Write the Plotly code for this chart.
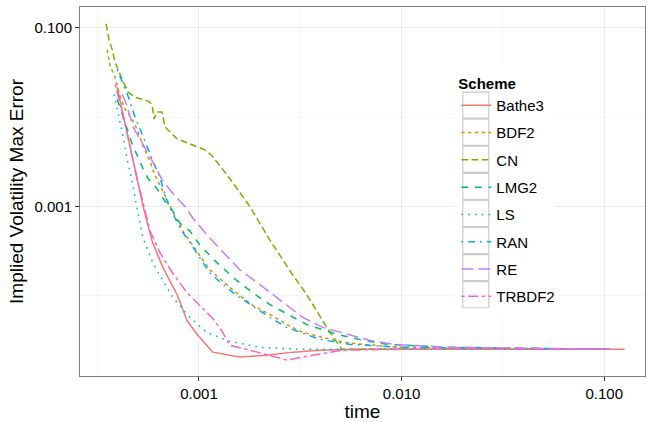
import plotly.graph_objects as go

# ---------------- data ----------------
schemes = ["Bathe3", "BDF2", "CN", "LMG2", "LS", "RAN", "RE", "TRBDF2"]

bathe3_t = [3.95e-4, 5.30e-4, 5.87e-4, 6.65e-4, 7.80e-4, 8.73e-4, 9.77e-4, 1.17e-3, 1.59e-3,
            2.16e-3, 2.90e-3, 3.95e-3, 6.21e-3, 1.72e-2, 0.126]
bathe3_err = [0.0215, 0.00100, 0.000408, 0.000205, 0.000103, 5.28e-5, 3.69e-5, 2.33e-5, 2.05e-5,
              2.15e-5, 2.33e-5, 2.45e-5, 2.51e-5, 2.51e-5, 2.51e-5]

bdf2_t = [3.52e-4, 3.65e-4, 3.86e-4, 4.08e-4, 4.32e-4, 4.68e-4, 5.01e-4, 5.30e-4, 5.74e-4, 6.07e-4,
          6.65e-4, 7.20e-4, 8.34e-4, 9.77e-4, 1.13e-3, 1.37e-3, 1.59e-3, 1.85e-3, 2.24e-3, 2.71e-3,
          3.25e-3, 4.08e-3, 5.12e-3, 6.43e-3, 9.78e-3, 1.72e-2, 0.106]
bdf2_err = [0.0570, 0.0369, 0.0278, 0.0171, 0.0123, 0.0095, 0.00681, 0.00476, 0.00316, 0.00221,
            0.00147, 0.00100, 0.000528, 0.000316, 0.000195, 0.000133, 0.000100, 7.74e-5, 6.15e-5,
            4.76e-5, 3.88e-5, 3.41e-5, 3.01e-5, 2.85e-5, 2.64e-5, 2.58e-5, 2.51e-5]

cn_t = [3.48e-4, 3.60e-4, 3.73e-4, 3.86e-4, 4.18e-4, 4.47e-4, 4.84e-4, 5.24e-4, 5.61e-4, 5.87e-4,
        6.00e-4, 6.21e-4, 6.57e-4, 6.80e-4, 7.20e-4, 7.80e-4, 8.73e-4, 9.77e-4, 1.07e-3, 1.16e-3,
        1.27e-3, 1.42e-3, 1.78e-3, 2.24e-3, 2.81e-3, 3.40e-3, 4.27e-3, 5.06e-3, 9.78e-3, 0.106]
cn_err = [0.111, 0.0736, 0.0570, 0.0408, 0.0264, 0.0190, 0.0167, 0.0158, 0.0151, 0.0139,
          0.0095, 0.0114, 0.0114, 0.00774, 0.00681, 0.00570, 0.00515, 0.00464, 0.00430, 0.00369,
          0.00285, 0.00205, 0.00100, 0.000419, 0.000190, 0.000103, 4.41e-5, 2.51e-5, 2.51e-5, 2.51e-5]

lmg2_t = [3.95e-4, 4.22e-4, 4.68e-4, 5.30e-4, 5.61e-4, 6.21e-4, 6.80e-4, 7.45e-4, 8.06e-4, 9.03e-4,
          1.01e-3, 1.23e-3, 1.54e-3, 1.93e-3, 2.24e-3, 2.81e-3, 3.40e-3, 4.79e-3, 6.43e-3, 8.43e-3,
          1.72e-2, 0.106]
lmg2_err = [0.0158, 0.0100, 0.00501, 0.00264, 0.00205, 0.00158, 0.00114, 0.00088, 0.000648, 0.000528,
            0.000369, 0.000233, 0.000147, 0.000100, 7.94e-5, 6.00e-5, 4.76e-5, 3.69e-5, 3.16e-5, 2.85e-5,
            2.64e-5, 2.51e-5]

ls_t = [3.81e-4, 3.99e-4, 4.18e-4, 4.42e-4, 4.68e-4, 4.95e-4, 5.30e-4, 5.87e-4, 6.43e-4, 7.45e-4,
        9.03e-4, 1.09e-3, 1.42e-3, 2.00e-3, 3.15e-3, 9.78e-3, 0.106]
ls_err = [0.0180, 0.0114, 0.00681, 0.00341, 0.00190, 0.00095, 0.000441, 0.000245, 0.000167, 9.5e-5,
          5.70e-5, 3.88e-5, 3.08e-5, 2.64e-5, 2.51e-5, 2.51e-5, 2.51e-5]

ran_t = [3.95e-4, 4.47e-4, 4.84e-4, 5.24e-4, 5.74e-4, 6.43e-4, 7.03e-4, 8.06e-4, 9.55e-4, 1.13e-3,
         1.37e-3, 1.59e-3, 1.89e-3, 2.24e-3, 2.71e-3, 3.15e-3, 3.95e-3, 5.55e-3, 9.78e-3, 0.106]
ran_err = [0.0341, 0.0171, 0.0100, 0.00648, 0.00388, 0.00205, 0.00108, 0.000570, 0.000324, 0.000180,
           0.000123, 9.5e-5, 7.36e-5, 5.70e-5, 4.41e-5, 3.88e-5, 3.24e-5, 2.85e-5, 2.64e-5, 2.51e-5]

re_t = [4.18e-4, 4.42e-4, 4.73e-4, 5.12e-4, 5.74e-4, 6.65e-4, 7.45e-4, 8.53e-4, 9.34e-4, 1.13e-3,
        1.37e-3, 1.59e-3, 2.00e-3, 2.42e-3, 2.81e-3, 3.25e-3, 4.08e-3, 5.36e-3, 6.95e-3, 9.04e-3,
        1.72e-2, 0.106]
re_err = [0.0180, 0.0133, 0.00774, 0.00570, 0.00359, 0.00190, 0.00139, 0.00100, 0.000736, 0.000441,
          0.000278, 0.000195, 0.000133, 9.5e-5, 7.36e-5, 5.70e-5, 4.41e-5, 3.69e-5, 3.16e-5, 2.85e-5,
          2.64e-5, 2.51e-5]

trbdf2_t = [3.86e-4, 4.32e-4, 4.95e-4, 5.42e-4, 5.74e-4, 6.43e-4, 7.45e-4, 8.73e-4, 1.01e-3, 1.17e-3,
            1.31e-3, 1.42e-3, 1.78e-3, 2.71e-3, 3.64e-3, 5.12e-3, 9.78e-3, 0.106]
trbdf2_err = [0.0233, 0.00836, 0.00205, 0.00088, 0.000528, 0.000301, 0.000176, 0.000108, 7.74e-5, 5.55e-5,
              3.88e-5, 2.78e-5, 2.45e-5, 1.90e-5, 2.15e-5, 2.45e-5, 2.51e-5, 2.51e-5]

x_tick_vals = [0.001, 0.01, 0.1]
x_tick_text = ["0.001", "0.010", "0.100"]
x_minor_vals = [0.000316, 0.00316, 0.0316]
y_tick_vals = [0.1, 0.001, 0.00001]
y_tick_text = ["0.100", "0.001", "0.00001"]
y_minor_vals = [0.01, 0.0001]

# ---------------- styling ----------------
colors = ["#F8766D", "#CD9600", "#7CAE00", "#00BE67", "#00BFC4", "#00A9FF", "#C77CFF", "#FF61CC"]
u = 1.7
def d(*a):
    return ",".join(f"{v*u:.1f}px" for v in a)
dashes = ["solid", d(2, 2), d(4, 2), d(4, 4), d(1, 3), d(1, 3, 4, 3), d(7, 3), d(2, 2, 6, 2)]

series = [
    (bathe3_t, bathe3_err), (bdf2_t, bdf2_err), (cn_t, cn_err), (lmg2_t, lmg2_err),
    (ls_t, ls_err), (ran_t, ran_err), (re_t, re_err), (trbdf2_t, trbdf2_err),
]

FONT = "Liberation Sans, Arial, Helvetica, sans-serif"

fig = go.Figure()
for i, (name, (t, e)) in enumerate(zip(schemes, series)):
    fig.add_trace(go.Scatter(
        x=t, y=e, mode="lines", name=name, legendgroup=name,
        line=dict(color=colors[i], width=1.5, dash=dashes[i]),
    ))

W, H = 648, 422
L, R, T, B = 80, 2, 7, 43
pw, ph = W - L - R, H - T - B

def px2x(px):
    return (px - L) / pw

def py2y(py):
    return (H - B - py) / ph

shapes = []
# white legend background (hides grid)
shapes.append(dict(type="rect", xref="paper", yref="paper", layer="above",
                   x0=px2x(456), x1=px2x(556), y0=py2y(320), y1=py2y(64),
                   fillcolor="white", line=dict(width=0)))
# key boxes
top0, bh = 92.3, 27.3
for k in range(len(schemes)):
    y_top = top0 + k * bh
    shapes.append(dict(type="rect", xref="paper", yref="paper", layer="above",
                       x0=px2x(463.5), x1=px2x(489.5), y0=py2y(y_top + bh - 0.5), y1=py2y(y_top + 0.5),
                       fillcolor="rgba(0,0,0,0)", line=dict(color="#CCCCCC", width=1.2)))

fig.update_layout(
    width=W, height=H,
    margin=dict(l=L, r=R, t=T, b=B),
    paper_bgcolor="white", plot_bgcolor="white",
    font=dict(family=FONT, color="black"),
    shapes=shapes,
    showlegend=True,
    legend=dict(
        x=px2x(457), xanchor="left", y=py2y(70), yanchor="top",
        bgcolor="rgba(0,0,0,0)", borderwidth=0,
        title=dict(text="<b>Scheme</b>", font=dict(size=15, family=FONT)),
        font=dict(size=15, family=FONT),
        tracegroupgap=4.8, traceorder="grouped",
    ),
    xaxis=dict(
        type="log", range=[-3.587, -0.799],
        tickvals=x_tick_vals, ticktext=x_tick_text,
        ticks="outside", ticklen=4, tickcolor="#333333", tickwidth=1,
        tickfont=dict(size=15, color="black"),
        showgrid=True, gridcolor="#EBEBEB", gridwidth=1,
        minor=dict(tickvals=x_minor_vals, showgrid=True, gridcolor="#F5F5F5", gridwidth=1, ticklen=0),
        showline=True, linecolor="#7F7F7F", linewidth=1, mirror=True,
        zeroline=False,
        title=dict(text="time", font=dict(size=19), standoff=5),
    ),
    yaxis=dict(
        type="log", range=[-4.9, -0.767],
        tickvals=y_tick_vals, ticktext=y_tick_text,
        ticks="outside", ticklen=4, tickcolor="#333333", tickwidth=1,
        tickfont=dict(size=15, color="black"),
        showgrid=True, gridcolor="#EBEBEB", gridwidth=1,
        minor=dict(tickvals=y_minor_vals, showgrid=True, gridcolor="#F5F5F5", gridwidth=1, ticklen=0),
        showline=True, linecolor="#7F7F7F", linewidth=1, mirror=True,
        zeroline=False,
        title=dict(text="Implied Volatility Max Error", font=dict(size=19), standoff=5),
    ),
)

fig.write_html("out.html")
